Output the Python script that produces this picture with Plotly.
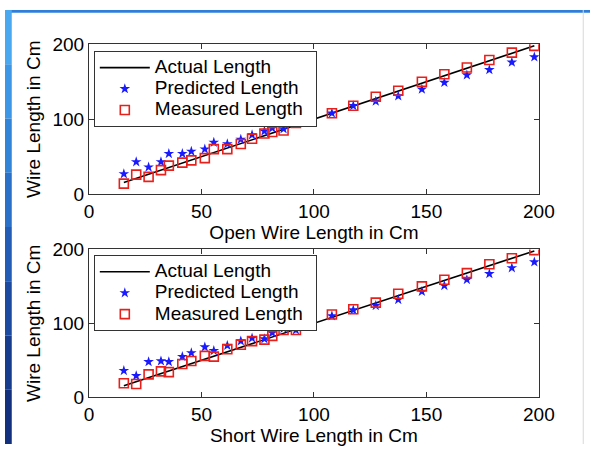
import plotly.graph_objects as go

# ---- data ----
x_vals = [15.5, 21, 26.5, 32, 35.5, 41.5, 45.5, 51.5, 55.5, 61.5, 67.5, 72.5, 78, 81.5,
          86.5, 92, 97.5, 108, 117.5, 127.5, 137.5, 148, 158, 168, 178, 188, 198]

open_actual = list(x_vals)
open_predicted = [27, 43, 36, 43, 54, 54, 57, 60, 69, 67, 73, 79, 84, 88, 87, 95, 99,
                  108, 118, 124, 131, 140, 149, 159, 166, 176, 183]
open_measured = [14, 26, 23, 32, 38, 42, 45, 48, 60, 60, 67, 74, 81, 83, 85, 95, 99,
                 108, 118, 130, 138, 150, 160, 169, 179, 189, 198]

short_actual = list(x_vals)
short_predicted = [36, 29, 48, 49, 48, 55, 60, 68, 63, 70, 76, 80, 79, 87, 93, 91, 97,
                   110, 118, 124, 132, 143, 151, 159, 167, 175, 183]
short_measured = [19, 18, 31, 35, 34, 45, 49, 56, 55, 65, 71, 76, 78, 83, 91, 91, 97,
                  112, 119, 128, 140, 150, 159, 168, 180, 188, 199]

series_names = ["Actual Length", "Predicted Length", "Measured Length"]
x_titles = ["Open Wire Length in Cm", "Short Wire Length in Cm"]
y_title = "Wire Length in Cm"
tick_vals = [0, 50, 100, 150, 200]
y_tick_vals = [0, 100, 200]

FONT = "Liberation Sans, Arial, sans-serif"
BLUE = "#1a1aff"
RED = "#e8201c"

W, H = 606, 455
def fx(px):
    return px / W
def fy(py):
    return 1 - py / H

fig = go.Figure()

def label(t):
    return '<span style="font-size:19px">' + t + '</span>&nbsp;&nbsp;'

def add_panel(actual, predicted, measured, xa, ya, legend):
    fig.add_trace(go.Scatter(x=x_vals, y=actual, mode="lines", name=label(series_names[0]),
                             line=dict(color="black", width=1.6), xaxis=xa, yaxis=ya, legend=legend))
    fig.add_trace(go.Scatter(x=x_vals, y=predicted, mode="markers", name=label(series_names[1]),
                             marker=dict(symbol="star", size=8, color=BLUE, line=dict(width=0)),
                             xaxis=xa, yaxis=ya, legend=legend))
    fig.add_trace(go.Scatter(x=x_vals, y=measured, mode="markers", name=label(series_names[2]),
                             marker=dict(symbol="square-open", size=9, color=RED, line=dict(width=1.6, color=RED)),
                             xaxis=xa, yaxis=ya, legend=legend))

add_panel(open_actual, open_predicted, open_measured, "x", "y", "legend")
add_panel(short_actual, short_predicted, short_measured, "x2", "y2", "legend2")

axis_common = dict(showgrid=False, zeroline=False, showline=True, linecolor="#333333", linewidth=1,
                   mirror="ticks", ticks="inside", ticklen=5, tickcolor="#333333",
                   tickfont=dict(family=FONT, size=19, color="black"))
title_font = dict(family=FONT, size=19, color="black")

legend_common = dict(xanchor="left", yanchor="top", bgcolor="white",
                     bordercolor="#333333", borderwidth=1, font=dict(family=FONT, size=14, color="black"),
                     tracegroupgap=0, itemwidth=50)

xdom = [fx(87), fx(553)]
fig.update_layout(
    width=W, height=H,
    margin=dict(l=0, r=0, t=0, b=0),
    paper_bgcolor="white", plot_bgcolor="white",
    showlegend=True,
    xaxis=dict(domain=xdom, range=[0, 200], tickvals=tick_vals, anchor="y",
               title=dict(text=x_titles[0], font=title_font, standoff=2), **axis_common),
    yaxis=dict(domain=[fy(193), fy(36)], range=[0, 200], tickvals=y_tick_vals, anchor="x",
               title=dict(text=y_title, font=title_font, standoff=6), **axis_common),
    xaxis2=dict(domain=xdom, range=[0, 200], tickvals=tick_vals, anchor="y2",
                title=dict(text=x_titles[1], font=title_font, standoff=2), **axis_common),
    yaxis2=dict(domain=[fy(406), fy(251)], range=[0, 200], tickvals=y_tick_vals, anchor="x2",
                title=dict(text=y_title, font=title_font, standoff=6), **axis_common),
    legend=dict(x=fx(92), y=fy(43), **legend_common),
    legend2=dict(x=fx(92), y=fy(257), **legend_common),
)

# slide frame: blue strips on top and left edges, faint line at right
shapes = [dict(type="rect", xref="paper", yref="paper", x0=0, x1=1, y0=fy(3), y1=1,
               fillcolor="#2f7fd8", line=dict(width=0), layer="below")]
blues = ["#4aa8f0", "#3d96e6", "#3284d9", "#2a70c8", "#225cb4", "#1c4aa0", "#173c8e", "#12307e"]
n = len(blues)
for i, c in enumerate(blues):
    shapes.append(dict(type="rect", xref="paper", yref="paper", x0=0, x1=fx(7),
                       y0=1 - (i + 1) / n, y1=1 - i / n, fillcolor=c, line=dict(width=0), layer="below"))
shapes.append(dict(type="line", xref="paper", yref="paper", x0=fx(599), x1=fx(599), y0=0, y1=1,
                   line=dict(color="#d8d8d8", width=1), layer="below"))
fig.update_layout(shapes=shapes)

fig.write_html("out.html")
